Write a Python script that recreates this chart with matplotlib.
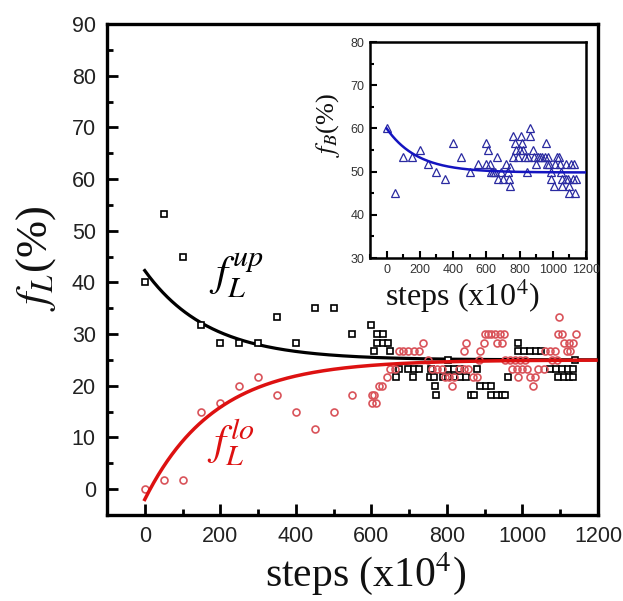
import numpy as np
import matplotlib
matplotlib.use("Agg")
import matplotlib.pyplot as plt
from matplotlib.ticker import MultipleLocator

plt.rcParams["mathtext.fontset"] = "stix"
plt.rcParams["font.family"] = ["Liberation Sans", "DejaVu Sans"]

# ---- f_L^up (black squares) ----
up_x = [0, 50, 100, 150, 200, 250, 300, 350, 400, 450, 500, 550, 600, 608, 615, 615,
        630, 630, 645, 650, 666, 674, 698, 710, 714, 727, 754, 757, 767, 769, 771, 791,
        804, 804, 804, 820, 820, 835, 835, 850, 864, 873, 879, 888, 903, 917, 917, 932,
        947, 955, 963, 989, 989, 1005, 1020, 1035, 1049, 1073, 1088, 1095, 1104, 1109,
        1120, 1123, 1133, 1135, 1139]
up_y = [40, 53.3, 45, 31.7, 28.3, 28.3, 28.3, 33.3, 28.3, 35, 35, 30, 31.7, 26.7, 30, 28.3,
        30, 28.3, 28.3, 26.7, 21.7, 23.3, 23.3, 21.7, 23.3, 23.3, 21.7, 23.3, 21.7, 20, 18.3, 21.7,
        25, 23.3, 21.7, 23.3, 21.7, 23.3, 21.7, 21.7, 18.3, 18.3, 23.3, 20, 20, 20, 18.3, 18.3,
        18.3, 18.3, 21.7, 28.3, 26.7, 26.7, 26.7, 26.7, 26.7, 23.3, 23.3, 21.7, 23.3, 21.7,
        23.3, 21.7, 21.7, 23.3, 25]

# ---- f_L^lo (red circles) ----
lo_x = [0, 50, 100, 150, 200, 250, 300, 350, 400, 450, 500, 550, 601, 602, 608, 611,
        619, 628, 641, 650, 663, 672, 685, 698, 712, 725, 738, 751, 760, 773, 787, 794,
        806, 813, 820, 831, 844, 844, 850, 857, 870, 879, 884, 888, 897, 901, 910, 918,
        928, 932, 941, 945, 952, 954, 967, 972, 980, 985, 989, 994, 998, 1007, 1011, 1020,
        1029, 1034, 1042, 1056, 1060, 1073, 1078, 1087, 1092, 1095, 1098, 1104, 1111, 1117,
        1123, 1126, 1135, 1141]
lo_y = [0, 1.7, 1.7, 15, 16.7, 20, 21.7, 18.3, 15, 11.7, 15, 18.3, 16.7, 18.3, 18.3, 16.7,
        20, 20, 21.7, 23.3, 23.3, 26.7, 26.7, 26.7, 26.7, 26.7, 28.3, 25, 23.3, 23.3, 23.3, 21.7,
        21.7, 20, 21.7, 23.3, 23.3, 26.7, 28.3, 23.3, 21.7, 21.7, 25, 26.7, 28.3, 30, 30, 30,
        30, 28.3, 30, 28.3, 30, 25, 25, 23.3, 25, 23.3, 21.7, 25, 23.3, 25, 23.3, 21.7,
        20, 21.7, 23.3, 23.3, 26.7, 26.7, 25, 26.7, 25, 30, 33.3, 30, 28.3, 26.7,
        28.3, 26.7, 28.3, 30]

# ---- f_B (blue triangles, inset) ----
b_x = [0, 50, 100, 150, 200, 250, 300, 350, 400, 450, 500, 550, 600, 600, 610, 625,
       630, 640, 650, 664, 670, 690, 700, 721, 730, 737, 741, 745, 761, 761, 771, 780,
       790, 800, 811, 815, 823, 830, 843, 850, 861, 865, 881, 890, 900, 910, 921, 938,
       952, 958, 965, 972, 975, 990, 992, 1008, 1015, 1023, 1040, 1045, 1050, 1058, 1058,
       1078, 1080, 1094, 1096, 1100, 1110, 1120, 1125, 1136, 1140]
b_y = [60, 45, 53.3, 53.3, 55, 51.7, 50, 48.3, 56.7, 53.3, 50, 51.7, 56.7, 51.7, 55, 51.7,
       50, 50, 50, 53.3, 48.3, 50, 48.3, 51.7, 50, 48.3, 46.7, 51, 53.3, 58.3, 56.7, 55,
       53.3, 55, 58.3, 56.7, 55, 53.3, 50, 53.3, 60, 58.3, 55, 53.3, 51.7, 53.3, 53.3, 53.3,
       53.3, 56.7, 51.7, 53.3, 51.7, 50, 48.3, 46.7, 51.7, 53.3, 53.3, 51.7, 50, 48.3, 46.7,
       48.3, 51.7, 48.3, 45, 46.7, 51.7, 48.3, 51.7, 45, 48.3]

# exponential fits  y = y0 + A * exp(-x / tau)
up_fit = dict(y0=25.0, A=17.3, tau=170.0)
lo_fit = dict(y0=25.0, A=-27.0, tau=185.0)
b_fit = dict(y0=49.8, A=10.2, tau=185.0)


def fit_curve(p, x):
    return p["y0"] + p["A"] * np.exp(-x / p["tau"])


RED = "#dd1111"
RED_PTS = "#d9535a"
BLUE = "#1414c0"
BLUE_PTS = "#2a2aa0"
SERIF = "Liberation Serif"

fig = plt.figure(figsize=(6.23, 6.01), dpi=100)
ax = fig.add_axes([0.1717, 0.1431, 0.7881, 0.8170])

xf = np.linspace(0, 1195, 400)
ax.plot(xf, fit_curve(up_fit, xf), color="black", lw=2.3, zorder=2)
ax.plot(up_x, up_y, ls="none", marker="s", ms=5, mfc="white", mec="black", mew=1.2, zorder=3)
ax.plot(lo_x, lo_y, ls="none", marker="o", ms=5, mfc="none", mec=RED_PTS, mew=1.2, zorder=3)
ax.plot(xf, fit_curve(lo_fit, xf), color=RED, lw=2.5, zorder=4)

ax.set_xlim(-100, 1200)
ax.set_ylim(-5, 90)
ax.xaxis.set_major_locator(MultipleLocator(200))
ax.xaxis.set_minor_locator(MultipleLocator(100))
ax.yaxis.set_major_locator(MultipleLocator(10))
ax.yaxis.set_minor_locator(MultipleLocator(5))
ax.tick_params(which="both", direction="in", top=False, right=False,
               labelsize=15.5, labelcolor="#222222", width=2.0, pad=8)
ax.tick_params(which="major", length=8)
ax.tick_params(which="minor", length=4.5)
for s in ax.spines.values():
    s.set_linewidth(2.4)

ax.set_xlabel(r"steps (x10$^4$)", family=SERIF, fontsize=30, color="#111111", va="center")
ax.xaxis.set_label_coords(0.527, -0.12)
ax.set_ylabel(r"$f_L$(%)", family=SERIF, fontsize=32, color="#111111", va="center", ha="center")
ax.yaxis.set_label_coords(-0.145, 0.523)

ax.text(241, 41.3, r"$f_L^{up}$", fontsize=31, color="black", ha="center", va="center")
ax.text(228, 9.1, r"$f_L^{lo}$", fontsize=31, color=RED, ha="center", va="center")

# inset: f_B
ins = fig.add_axes([0.5939, 0.5707, 0.3467, 0.3594])
ins.plot(b_x, b_y, ls="none", marker="^", ms=6, mfc="none", mec=BLUE_PTS, mew=0.9, zorder=3)
xb = np.linspace(0, 1193, 400)
ins.plot(xb, fit_curve(b_fit, xb), color=BLUE, lw=1.8, zorder=4)
ins.set_xlim(-100, 1200)
ins.set_ylim(30, 80)
ins.xaxis.set_major_locator(MultipleLocator(200))
ins.xaxis.set_minor_locator(MultipleLocator(100))
ins.yaxis.set_major_locator(MultipleLocator(10))
ins.yaxis.set_minor_locator(MultipleLocator(5))
ins.tick_params(which="both", direction="in", top=False, right=False,
                labelsize=9, labelcolor="#333333", width=1.5, pad=4)
ins.tick_params(which="major", length=5)
ins.tick_params(which="minor", length=3)
for s in ins.spines.values():
    s.set_linewidth(1.8)

ins.set_xlabel(r"steps (x10$^4$)", family=SERIF, fontsize=23, color="#111111", va="center")
ins.xaxis.set_label_coords(0.43, -0.175)
ins.set_ylabel(r"$f_B$(%)", family=SERIF, fontsize=19, color="#111111", va="center", ha="center")
ins.yaxis.set_label_coords(-0.194, 0.616)

fig.savefig("out.png", dpi=100)
